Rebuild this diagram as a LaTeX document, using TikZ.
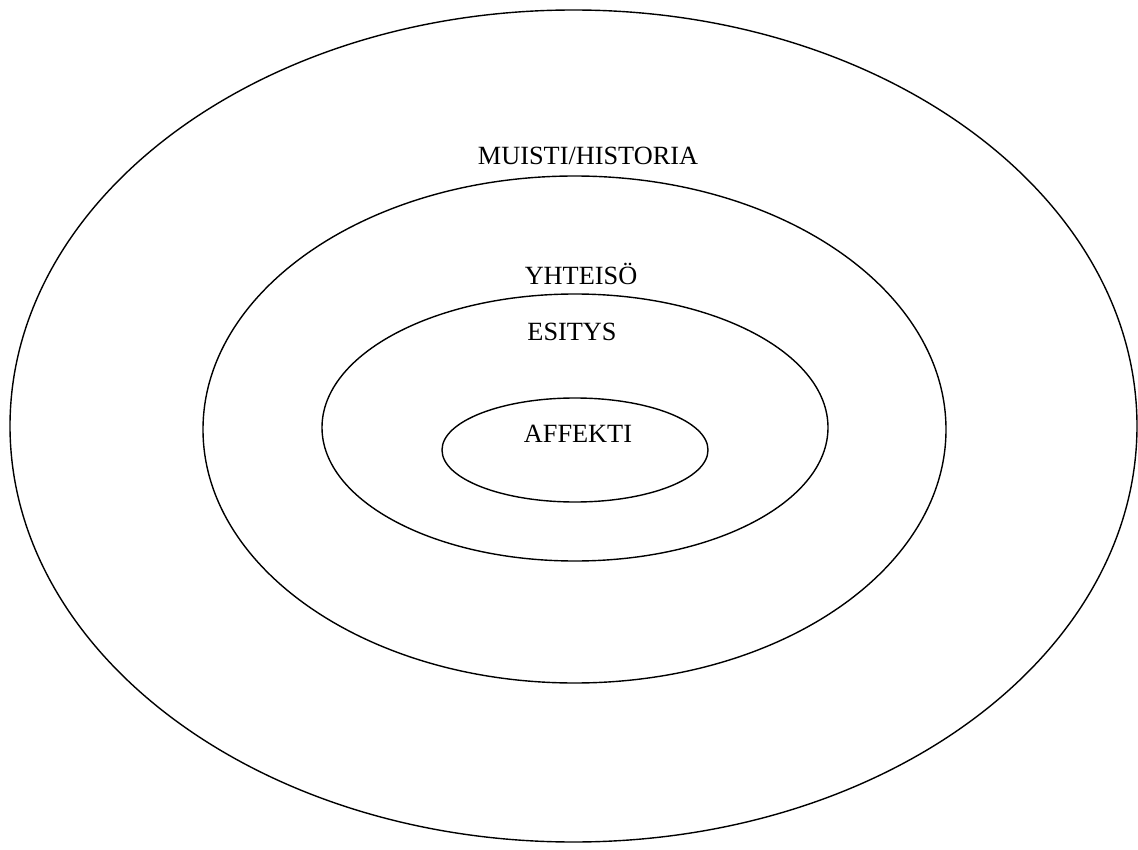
\documentclass[tikz,border=0pt]{standalone}
\usepackage{fontspec}
\setmainfont{Liberation Serif}
\begin{document}
\begin{tikzpicture}[x=1pt,y=-1pt,
    ring/.style={draw, line width=1.4pt},
    label/.style={font=\fontsize{26.3}{30}\selectfont, inner sep=0pt}]
    \useasboundingbox (0,0) rectangle (1138,850);
    % rings
    \draw[ring] (573.5,426) ellipse [x radius=563.5, y radius=416];
    \draw[ring] (574.5,429.5) ellipse [x radius=371.5, y radius=253.5];
    \draw[ring] (575,427.5) ellipse [x radius=253, y radius=133.5];
    \draw[ring] (575,450) ellipse [x radius=133, y radius=52];
    % labels
    \node[label] (Muisti) at (588,156) {MUISTI/HISTORIA};
    \node[label] (Yhteiso) at (581,274) {YHTEISÖ};
    \node[label] (Esitys) at (572,332) {ESITYS};
    \node[label] (Affekti) at (578,434) {AFFEKTI};
  \end{tikzpicture}
\end{document}
